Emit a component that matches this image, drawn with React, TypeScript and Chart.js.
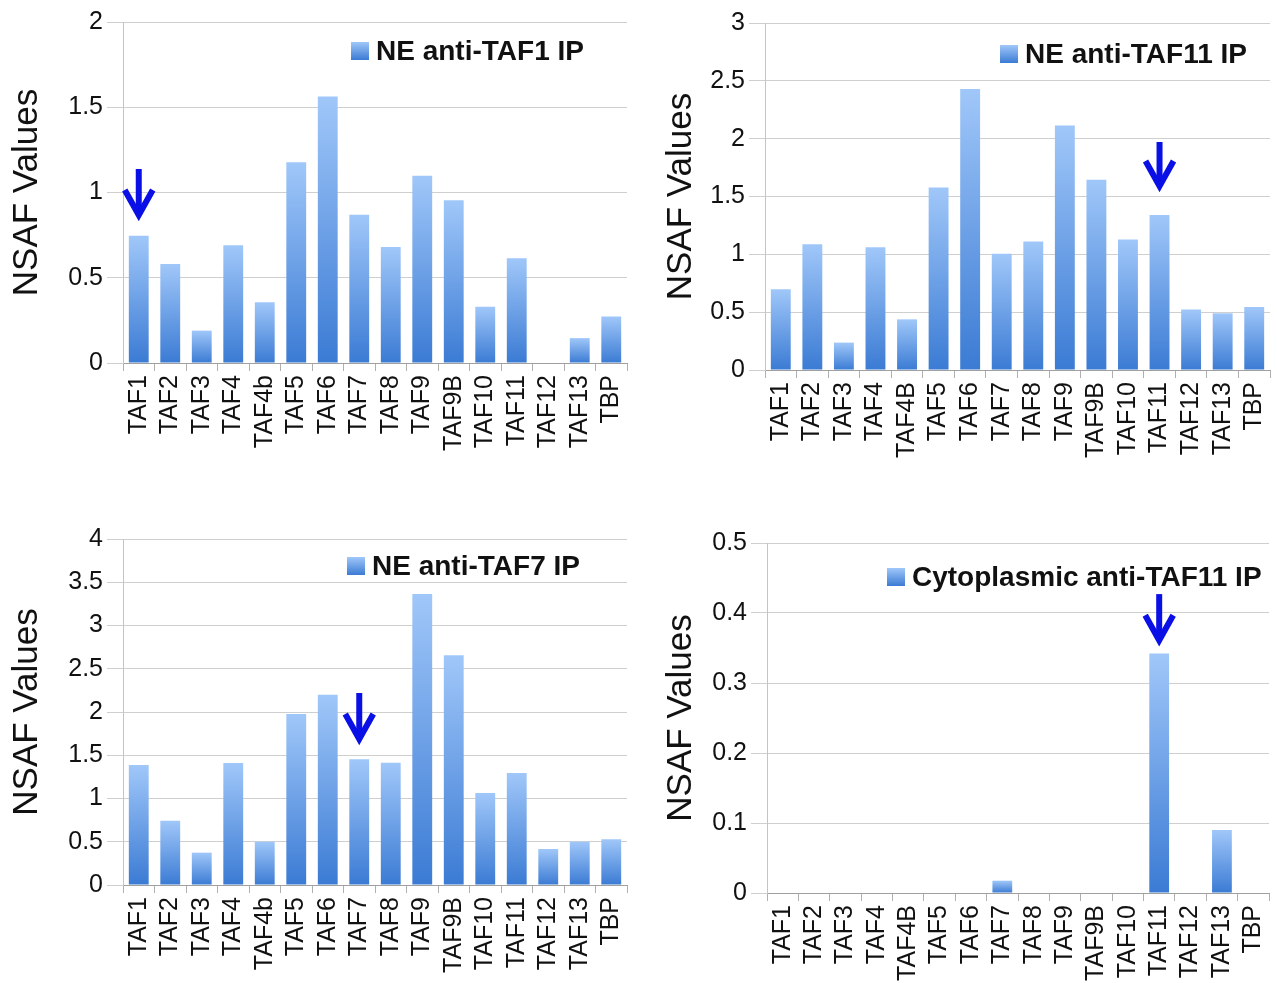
import React, { useEffect, useRef } from "react";
import { Chart, registerables } from "chart.js";

Chart.register(...registerables);

// ---------- data ----------
const categoriesLower = ["TAF1", "TAF2", "TAF3", "TAF4", "TAF4b", "TAF5", "TAF6", "TAF7", "TAF8", "TAF9", "TAF9B", "TAF10", "TAF11", "TAF12", "TAF13", "TBP"];
const categoriesUpper = ["TAF1", "TAF2", "TAF3", "TAF4", "TAF4B", "TAF5", "TAF6", "TAF7", "TAF8", "TAF9", "TAF9B", "TAF10", "TAF11", "TAF12", "TAF13", "TBP"];

const valuesNeTaf1 = [0.747, 0.58, 0.19, 0.69, 0.357, 1.177, 1.563, 0.87, 0.68, 1.098, 0.954, 0.33, 0.615, 0, 0.146, 0.273];
const valuesNeTaf11 = [0.698, 1.087, 0.237, 1.061, 0.438, 1.578, 2.429, 1.004, 1.11, 2.114, 1.644, 1.128, 1.341, 0.522, 0.49, 0.545];
const valuesNeTaf7 = [1.387, 0.744, 0.374, 1.41, 0.5, 1.977, 2.2, 1.453, 1.414, 3.364, 2.655, 1.064, 1.295, 0.416, 0.5, 0.528];
const valuesCytoTaf11 = [0, 0, 0, 0, 0, 0, 0, 0.0176, 0, 0, 0, 0, 0.342, 0, 0.09, 0];

const legendNeTaf1 = "NE anti-TAF1 IP";
const legendNeTaf11 = "NE anti-TAF11 IP";
const legendNeTaf7 = "NE anti-TAF7 IP";
const legendCytoTaf11 = "Cytoplasmic anti-TAF11 IP";

const yTitle = "NSAF Values";

// arrows: [category index, tip value, tail value]
const arrowNeTaf1 = [0, 0.827, 1.138];
const arrowNeTaf11 = [12, 1.53, 1.971];
const arrowNeTaf7 = [7, 1.607, 2.22];
const arrowCytoTaf11 = [12, 0.351, 0.427];

const yMaxNeTaf1 = 2, yStepNeTaf1 = 0.5;
const yMaxNeTaf11 = 3, yStepNeTaf11 = 0.5;
const yMaxNeTaf7 = 4, yStepNeTaf7 = 0.5;
const yMaxCytoTaf11 = 0.5, yStepCytoTaf11 = 0.1;

// ---------- styles ----------
const FONT = "'Liberation Sans', Arial, sans-serif";
const TOP_COLOR = "#a0c7f9";
const BOTTOM_COLOR = "#3b7bd4";
const GRID = "#cfcfcf";
const ARROW = "#0a0fe6";

type Panel = {
  left: number; top: number; width: number; height: number;
  area: { left: number; top: number; right: number; bottom: number };
  titleX: number;
  categories: string[]; values: number[]; yMax: number; yStep: number;
  legend: string; legendX: number; legendY: number;
  arrow: number[];
};

const panels: Panel[] = [
  { left: 0, top: 0, width: 640, height: 490, area: { left: 123, top: 22, right: 627, bottom: 363 }, titleX: 27,
    categories: categoriesLower, values: valuesNeTaf1, yMax: yMaxNeTaf1, yStep: yStepNeTaf1,
    legend: legendNeTaf1, legendX: 376, legendY: 51, arrow: arrowNeTaf1 },
  { left: 640, top: 0, width: 637, height: 490, area: { left: 125, top: 23, right: 630, bottom: 370 }, titleX: 41,
    categories: categoriesUpper, values: valuesNeTaf11, yMax: yMaxNeTaf11, yStep: yStepNeTaf11,
    legend: legendNeTaf11, legendX: 385, legendY: 54, arrow: arrowNeTaf11 },
  { left: 0, top: 490, width: 640, height: 493, area: { left: 123, top: 49, right: 627, bottom: 395 }, titleX: 27,
    categories: categoriesLower, values: valuesNeTaf7, yMax: yMaxNeTaf7, yStep: yStepNeTaf7,
    legend: legendNeTaf7, legendX: 372, legendY: 76, arrow: arrowNeTaf7 },
  { left: 640, top: 490, width: 637, height: 493, area: { left: 127, top: 53, right: 629, bottom: 403 }, titleX: 41,
    categories: categoriesUpper, values: valuesCytoTaf11, yMax: yMaxCytoTaf11, yStep: yStepCytoTaf11,
    legend: legendCytoTaf11, legendX: 272, legendY: 87, arrow: arrowCytoTaf11 },
];

const formatTick = (v: any) => String(Number(Number(v).toFixed(2)));

const overlayPlugin = {
  id: "overlay",
  afterDatasetsDraw(chart: any, _args: any, opts: any) {
    const ctx = chart.ctx as CanvasRenderingContext2D;
    const xs = chart.scales.x;
    const ys = chart.scales.y;
    // arrow
    const [idx, tip, tail] = opts.arrow as number[];
    const x = xs.getPixelForValue(idx);
    const yTip = ys.getPixelForValue(tip);
    const yTail = ys.getPixelForValue(tail);
    ctx.save();
    ctx.strokeStyle = ARROW;
    ctx.lineWidth = 6;
    ctx.lineCap = "butt";
    ctx.lineJoin = "miter";
    ctx.beginPath();
    ctx.moveTo(x, yTail);
    ctx.lineTo(x, yTip - 8);
    ctx.stroke();
    ctx.beginPath();
    ctx.moveTo(x - 14, yTip - 32);
    ctx.lineTo(x, yTip - 7);
    ctx.lineTo(x + 14, yTip - 32);
    ctx.stroke();
    ctx.restore();
    // legend
    ctx.save();
    const sq = 18;
    const sx = opts.legendX - sq - 7;
    const sy = opts.legendY - sq / 2;
    const g = ctx.createLinearGradient(0, sy, 0, sy + sq);
    g.addColorStop(0, TOP_COLOR);
    g.addColorStop(1, BOTTOM_COLOR);
    ctx.fillStyle = g;
    ctx.fillRect(sx, sy, sq, sq);
    ctx.fillStyle = "#111";
    ctx.font = `bold 28px ${FONT}`;
    ctx.textBaseline = "middle";
    ctx.textAlign = "left";
    ctx.fillText(opts.legend, opts.legendX, opts.legendY + 1);
    ctx.restore();
  },
};

function ChartPanel({ p }: { p: Panel }) {
  const ref = useRef<HTMLCanvasElement | null>(null);
  useEffect(() => {
    if (!ref.current) return;
    const titleFont = 35;
    const chart = new Chart(ref.current, {
      type: "bar",
      data: {
        labels: p.categories,
        datasets: [
          {
            data: p.values,
            barPercentage: 0.63,
            categoryPercentage: 1,
            borderWidth: 0,
            backgroundColor: (c: any) => {
              const ch = c.chart;
              if (!ch.chartArea || c.type !== "data") return TOP_COLOR;
              const y = ch.scales.y;
              const v = typeof c.raw === "number" ? c.raw : 0;
              const yT = y.getPixelForValue(v);
              const yB = y.getPixelForValue(0);
              if (!(yB - yT > 0.5)) return BOTTOM_COLOR;
              const g = ch.ctx.createLinearGradient(0, yT, 0, yB);
              g.addColorStop(0, TOP_COLOR);
              g.addColorStop(1, BOTTOM_COLOR);
              return g;
            },
          },
        ],
      },
      options: {
        responsive: false,
        animation: false,
        devicePixelRatio: 1,
        layout: {
          padding: { left: 0, top: p.area.top, right: p.width - p.area.right, bottom: 0 },
        },
        plugins: {
          legend: { display: false },
          tooltip: { enabled: false },
          overlay: { arrow: p.arrow, legend: p.legend, legendX: p.legendX, legendY: p.legendY },
        } as any,
        scales: {
          x: {
            grid: { display: true, drawOnChartArea: false, drawTicks: true, tickLength: 8, color: "#b0b0b0" },
            border: { display: true, color: "#a0a0a0", width: 1 },
            ticks: {
              autoSkip: false, maxRotation: 90, minRotation: 90, padding: 4,
              color: "#111", font: { family: FONT, size: 25 },
            },
            afterFit: (s: any) => {
              s.height = p.height - p.area.bottom;
              s.paddingLeft = 0;
              s.paddingRight = 0;
            },
          },
          y: {
            min: 0, max: p.yMax,
            grid: { color: GRID, lineWidth: 1, drawTicks: true, tickLength: 16 },
            border: { display: true, color: "#c4c4c4", width: 1 },
            ticks: {
              stepSize: p.yStep, padding: 4, color: "#111",
              font: { family: FONT, size: 25 },
              callback: formatTick,
            },
            title: {
              display: true, text: yTitle, color: "#111",
              font: { family: FONT, size: titleFont, lineHeight: 1 },
              padding: { top: p.titleX - titleFont / 2, bottom: 0 },
            },
            afterFit: (s: any) => {
              s.width = p.area.left;
              s.paddingTop = 0;
              s.paddingBottom = 0;
            },
          },
        },
      },
      plugins: [overlayPlugin],
    } as any);
    return () => chart.destroy();
  }, [p]);
  return (
    <canvas
      ref={ref}
      width={p.width}
      height={p.height}
      style={{ position: "absolute", left: p.left, top: p.top, width: p.width, height: p.height }}
    />
  );
}

export default function App() {
  return (
    <div style={{ position: "fixed", left: 0, top: 0, width: 1277, height: 983, overflow: "hidden", background: "#fff" }}>
      {panels.map((p, i) => (
        <ChartPanel key={i} p={p} />
      ))}
    </div>
  );
}
